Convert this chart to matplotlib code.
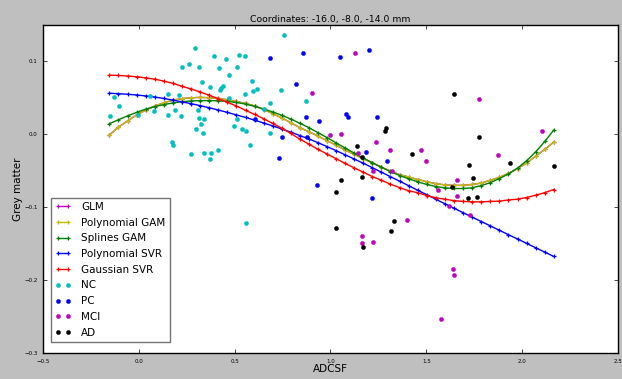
import matplotlib
matplotlib.use('Agg')
import matplotlib.pyplot as plt

plt.style.use('classic')

# ADCSF grid where the fitted curves are evaluated
adcsf_grid = [-0.153, -0.106, -0.058, -0.011, 0.036, 0.084, 0.131, 0.178, 0.225, 0.273,
              0.320, 0.367, 0.415, 0.462, 0.509, 0.557, 0.604, 0.651, 0.698, 0.746,
              0.793, 0.840, 0.888, 0.935, 0.982, 1.030, 1.077, 1.124, 1.172, 1.219,
              1.266, 1.313, 1.361, 1.408, 1.455, 1.503, 1.550, 1.597, 1.645, 1.692,
              1.739, 1.787, 1.834, 1.881, 1.928, 1.976, 2.023, 2.070, 2.118, 2.165]

poly_gam = [-0.0008, 0.0098, 0.0186, 0.0266, 0.0332, 0.0390, 0.0433, 0.0468, 0.0490, 0.0502,
            0.0507, 0.0503, 0.0493, 0.0475, 0.0452, 0.0424, 0.0390, 0.0340, 0.0285, 0.0225,
            0.0160, 0.0092, 0.0035, -0.0023, -0.0087, -0.0150, -0.0216, -0.0275, -0.0334, -0.0394,
            -0.0450, -0.0504, -0.0554, -0.0585, -0.0620, -0.0650, -0.0677, -0.0694, -0.0700, -0.0700,
            -0.0688, -0.0668, -0.0630, -0.0590, -0.0536, -0.0470, -0.0394, -0.0300, -0.0206, -0.0106]

# GLM fit is hidden under the polynomial GAM curve
glm = list(poly_gam)

splines_gam = [0.0147, 0.0200, 0.0254, 0.0302, 0.0345, 0.0381, 0.0408, 0.0431, 0.0447, 0.0458,
               0.0463, 0.0463, 0.0460, 0.0452, 0.0437, 0.0415, 0.0385, 0.0350, 0.0308, 0.0262,
               0.0210, 0.0153, 0.0091, 0.0023, -0.0045, -0.0118, -0.0188, -0.0257, -0.0326, -0.0390,
               -0.0452, -0.0511, -0.0565, -0.0610, -0.0652, -0.0688, -0.0716, -0.0735, -0.0743, -0.0743,
               -0.0733, -0.0703, -0.0662, -0.0607, -0.0545, -0.0462, -0.0362, -0.0242, -0.0098, 0.0059]

poly_svr = [0.0564, 0.0558, 0.0550, 0.0540, 0.0527, 0.0512, 0.0492, 0.0470, 0.0446, 0.0421,
            0.0394, 0.0365, 0.0334, 0.0301, 0.0267, 0.0232, 0.0195, 0.0156, 0.0116, 0.0074,
            0.0030, -0.0016, -0.0064, -0.0114, -0.0168, -0.0224, -0.0281, -0.0339, -0.0398, -0.0458,
            -0.0519, -0.0581, -0.0643, -0.0705, -0.0767, -0.0829, -0.0891, -0.0953, -0.1014, -0.1075,
            -0.1136, -0.1196, -0.1256, -0.1316, -0.1376, -0.1436, -0.1496, -0.1556, -0.1616, -0.1676]

gauss_svr = [0.0812, 0.0808, 0.0800, 0.0790, 0.0775, 0.0757, 0.0730, 0.0700, 0.0660, 0.0622,
             0.0582, 0.0536, 0.0490, 0.0440, 0.0390, 0.0330, 0.0273, 0.0215, 0.0150, 0.0085,
             0.0012, -0.0065, -0.0135, -0.0206, -0.0270, -0.0334, -0.0400, -0.0460, -0.0520, -0.0580,
             -0.0630, -0.0685, -0.0730, -0.0775, -0.0800, -0.0840, -0.0870, -0.0890, -0.0910, -0.0920,
             -0.0926, -0.0926, -0.0920, -0.0917, -0.0900, -0.0890, -0.0867, -0.0835, -0.0800, -0.0757]

# Subjects: (ADCSF, grey matter)
nc_x = [0.292, 0.395, 0.457, 0.522, 0.555, 0.223, 0.263, 0.315, 0.421, 0.515,
        0.471, 0.331, 0.370, 0.442, 0.428, 0.423, 0.591, 0.617, 0.597, 0.553,
        0.153, 0.211, 0.056, -0.127, -0.104, -0.148, -0.002, 0.082, 0.150, 0.191,
        0.218, 0.310, 0.313, 0.338, 0.327, 0.299, 0.334, 0.499, 0.513, 0.541,
        0.557, 0.470, 0.756, 0.744, 0.683, 0.871, 0.654, 0.683, 0.171, 0.181,
        0.273, 0.339, 0.376, 0.412, 0.374, 0.581, 0.558]
nc_y = [0.119, 0.107, 0.103, 0.109, 0.108, 0.092, 0.096, 0.093, 0.091, 0.092,
        0.081, 0.072, 0.065, 0.067, 0.063, 0.061, 0.073, 0.062, 0.060, 0.056,
        0.055, 0.054, 0.052, 0.051, 0.039, 0.025, 0.027, 0.032, 0.027, 0.033,
        0.025, 0.033, 0.022, 0.021, 0.014, 0.007, 0.002, 0.011, 0.021, 0.007,
        0.004, 0.050, 0.136, 0.061, 0.043, 0.046, 0.035, 0.002, -0.011, -0.015,
        -0.027, -0.026, -0.026, -0.021, -0.034, -0.015, -0.121]

pc_x = [0.684, 0.856, 0.821, 0.873, 0.939, 0.605, 0.734, 0.931, 0.746, 0.880,
        1.051, 1.203, 1.083, 1.092, 1.242, 1.183, 1.297, 1.216]
pc_y = [0.105, 0.112, 0.069, 0.024, 0.018, 0.021, -0.033, -0.069, -0.004, -0.003,
        0.106, 0.116, 0.028, 0.024, 0.024, -0.024, -0.036, -0.087]

mci_x = [0.904, 1.127, 1.000, 1.057, 1.237, 1.311, 1.473, 1.499, 1.322, 1.223,
         1.562, 1.662, 1.774, 1.876, 2.104, 1.662, 1.146, 1.399, 1.163, 1.163,
         1.221, 1.639, 1.646, 1.577, 1.619, 1.730]
mci_y = [0.057, 0.112, -0.001, 0.001, -0.010, -0.022, -0.022, -0.036, -0.050, -0.050,
         -0.077, -0.063, 0.049, -0.028, 0.004, -0.085, -0.025, -0.118, -0.140, -0.149,
         -0.148, -0.185, -0.193, -0.253, -0.099, -0.111]

ad_x = [1.291, 1.286, 1.647, 1.777, 1.137, 1.423, 1.721, 1.934, 2.165, 1.054,
        1.162, 1.165, 1.030, 1.746, 1.633, 1.717, 1.765, 1.334, 1.317, 1.028,
        1.169]
ad_y = [0.009, 0.005, 0.056, -0.004, -0.016, -0.027, -0.042, -0.039, -0.044, -0.062,
        -0.031, -0.058, -0.079, -0.060, -0.072, -0.088, -0.086, -0.119, -0.133, -0.128,
        -0.155]

fig = plt.figure(figsize=(6.22, 3.79), dpi=100)
ax = fig.add_axes([0.069, 0.0686, 0.9246, 0.8654])

line_kw = dict(marker='+', markersize=3.5, markeredgewidth=0.9, linewidth=1.0)
ax.plot(adcsf_grid, glm, color='m', label='GLM', **line_kw)
ax.plot(adcsf_grid, poly_gam, color='y', label='Polynomial GAM', **line_kw)
ax.plot(adcsf_grid, splines_gam, color='g', label='Splines GAM', **line_kw)
ax.plot(adcsf_grid, poly_svr, color='b', label='Polynomial SVR', **line_kw)
ax.plot(adcsf_grid, gauss_svr, color='r', label='Gaussian SVR', **line_kw)

dot_kw = dict(linestyle='none', marker='o', markersize=3, markeredgewidth=0.3)
ax.plot(nc_x, nc_y, color='c', mec='c', label='NC', **dot_kw)
ax.plot(pc_x, pc_y, color='b', mec='b', label='PC', **dot_kw)
ax.plot(mci_x, mci_y, color='m', mec='m', label='MCI', **dot_kw)
ax.plot(ad_x, ad_y, color='k', mec='k', label='AD', **dot_kw)

ax.set_xlim(-0.5, 2.5)
ax.set_ylim(-0.3, 0.15)
ax.set_yticks([-0.3, -0.2, -0.1, 0.0, 0.1])
ax.tick_params(labelsize=4, length=3)
ax.set_title('Coordinates: -16.0, -8.0, -14.0 mm', fontsize=6.7, pad=2.5)
ax.set_xlabel('ADCSF', fontsize=7.5, labelpad=0)
ax.set_ylabel('Grey matter', fontsize=7.5, labelpad=0.5)

leg = ax.legend(loc='lower left', bbox_to_anchor=(0.014, 0.034), borderaxespad=0,
                fontsize=7.5, numpoints=2, labelspacing=0.55,
                handlelength=1.5, handletextpad=1.0)
leg.get_frame().set_edgecolor('0.45')

plt.savefig('out.png', dpi=100, facecolor=fig.get_facecolor())
